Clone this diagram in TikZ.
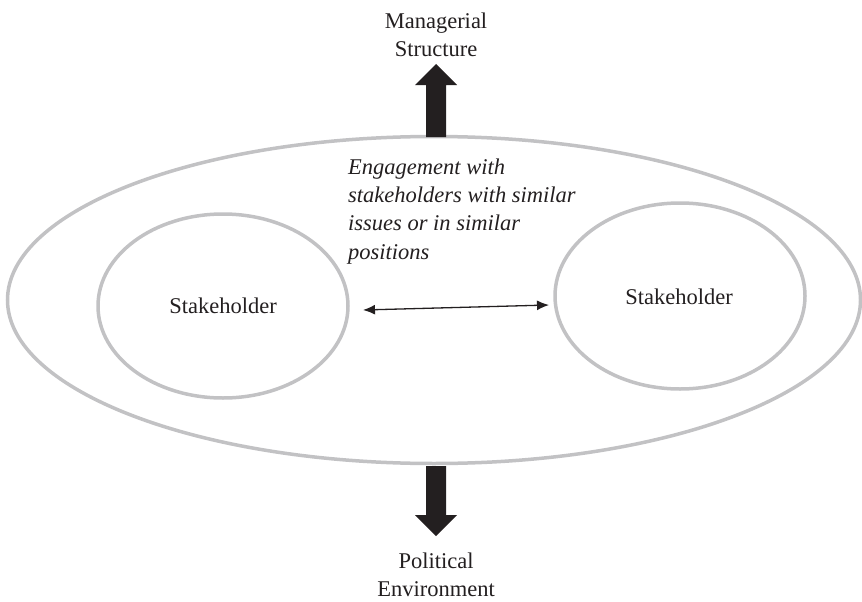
\documentclass[tikz,border=0pt]{standalone}
\usepackage{fontspec}
\setmainfont{Liberation Serif}
\usetikzlibrary{shapes.geometric,arrows.meta}
\definecolor{ringgray}{RGB}{194,194,196}
\definecolor{inkblack}{RGB}{35,31,32}
\tikzset{
  ring/.style={ellipse, draw=ringgray, line width=3.5pt, inner sep=0pt},
  lbl/.style={font=\fontsize{22.5}{28.3}\selectfont, text=inkblack, align=center, inner sep=0pt},
  bigarrow/.style={fill=inkblack},
  link/.style={draw=inkblack, line width=1.3pt, {Latex[length=12pt,width=10pt]}-{Latex[length=12pt,width=10pt]}}
}
\begin{document}
\begin{tikzpicture}[x=1pt,y=-1pt]
\useasboundingbox (0,0) rectangle (862,602);
\node[ring, minimum width=853pt, minimum height=327pt] (outer) at (434,300) {};
\node[ring, minimum width=250pt, minimum height=184pt] (left) at (223,306) {};
\node[ring, minimum width=250pt, minimum height=186pt] (right) at (680,296) {};
\node[lbl] (ltext) at (223,306) {Stakeholder};
\node[lbl] (rtext) at (679,297) {Stakeholder};
\node[lbl, anchor=base west, align=left, font=\fontsize{22.5}{28.3}\selectfont\itshape] (engage) at (348,259)
  {Engagement with\\stakeholders with similar\\issues or in similar\\positions};
\coordinate (a1) at (363,310);
\coordinate (a2) at (549,305);
\draw[link] (a1) -- (a2);
\node[lbl] (mgmt) at (436,35) {Managerial\\Structure};
\node[lbl] (pol) at (436,575) {Political\\Environment};
% top arrow
\fill[bigarrow] (426,137) -- (426,85) -- (415,85) -- (436,64) -- (457,85) -- (446,85) -- (446,137) -- cycle;
% bottom arrow
\fill[bigarrow] (426,466) -- (426,515) -- (415,515) -- (436,536) -- (457,515) -- (446,515) -- (446,466) -- cycle;
\end{tikzpicture}
\end{document}
